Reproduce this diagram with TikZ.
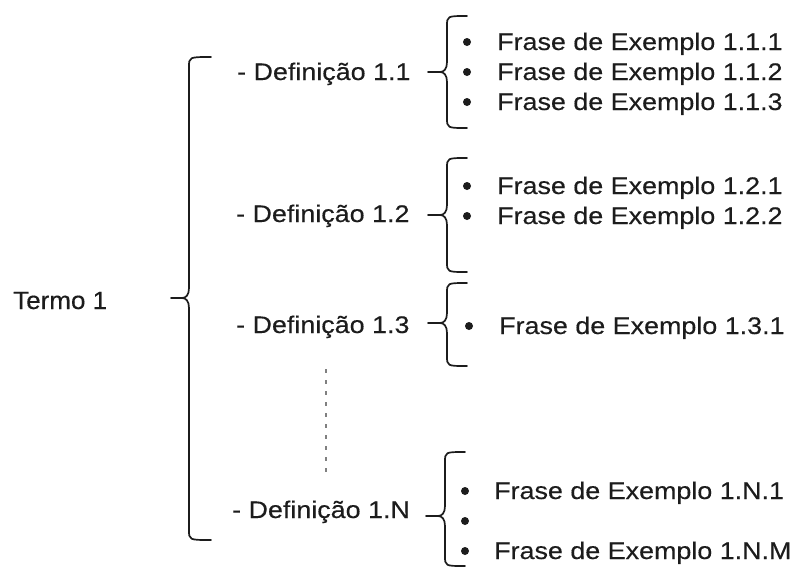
\documentclass[tikz,border=0pt]{standalone}
\usepackage{fontspec}
\setmainfont{Liberation Sans}[FakeStretch=1.12,FakeBold=0.3]
\newfontfamily\termfont{Liberation Sans}[FakeStretch=1.04,FakeBold=0.3]
\definecolor{ink}{HTML}{1C1C1C}
\begin{document}
\begin{tikzpicture}[x=1pt,y=-1pt,
  txt/.style={anchor=base west,inner sep=0pt,text=ink,font=\fontsize{24}{28}\selectfont},
  bracepath/.style={draw=ink,line width=1.7pt,line cap=round,line join=round},
  dot/.style={circle,fill=ink,inner sep=0pt,minimum size=8pt},
  dotted link/.style={draw=gray,line width=1.3pt,dash pattern=on 3.5pt off 7.5pt}]
\useasboundingbox (0,0) rectangle (800,571);

% left-opening curly brace: #1 spine x, #2 top y, #3 middle y, #4 bottom y, #5 tip x, #6 end x
\def\curly#1#2#3#4#5#6{%
  \path[bracepath] (#6,#2) .. controls (#1,#2) .. (#1,#2+10)
    -- (#1,#3-10) .. controls (#1,#3-3) and (#1-3,#3) .. (#1-7,#3)
    -- (#5,#3);
  \path[bracepath] (#1-7,#3) .. controls (#1-3,#3) and (#1,#3+3) .. (#1,#3+10)
    -- (#1,#4-10) .. controls (#1,#4) .. (#6,#4);}

% term
\node[anchor=base west,inner sep=0pt,text=ink,font=\fontsize{25}{30}\termfont] (t1) at (13,309) {Termo 1};
\curly{189}{57}{298}{540}{171}{211}

% definitions
\node[txt] (d1) at (237,80) {- Definição 1.1};
\node[txt] (d2) at (236,222) {- Definição 1.2};
\node[txt] (d3) at (236,333) {- Definição 1.3};
\node[txt] (dn) at (232,518) {- Definição 1.N};

% braces of the definitions
\curly{447}{16}{72}{128}{428}{467}
\curly{447}{158}{215}{272}{428}{467}
\curly{447}{283}{323}{366}{428}{467}
\curly{445}{452}{516}{566}{426}{465}

% example sentences
\node[dot] (b11) at (467,42) {};
\node[txt] (e11) at (497,50) {Frase de Exemplo 1.1.1};
\node[dot] (b12) at (467,72) {};
\node[txt] (e12) at (497,80) {Frase de Exemplo 1.1.2};
\node[dot] (b13) at (467,102) {};
\node[txt] (e13) at (497,110) {Frase de Exemplo 1.1.3};

\node[dot] (b21) at (467,186) {};
\node[txt] (e21) at (497,194) {Frase de Exemplo 1.2.1};
\node[dot] (b22) at (467,216) {};
\node[txt] (e22) at (497,224) {Frase de Exemplo 1.2.2};

\node[dot] (b31) at (469,326) {};
\node[txt] (e31) at (499,334) {Frase de Exemplo 1.3.1};

\node[dot] (bn1) at (465,491) {};
\node[txt] (en1) at (494,499) {Frase de Exemplo 1.N.1};
\node[dot] (bn2) at (465,521) {};
\node[dot] (bnm) at (465,551) {};
\node[txt] (enm) at (494,559) {Frase de Exemplo 1.N.M};

% omitted definitions
\coordinate (g1) at (326,369);
\coordinate (g2) at (326,476);
\path[dotted link] (g1) -- (g2);
\end{tikzpicture}
\end{document}
